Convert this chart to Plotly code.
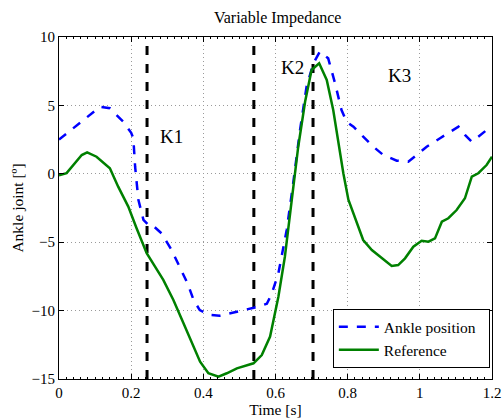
import plotly.graph_objects as go

# Reference trajectory (green)
ref_t = [0.000, 0.021, 0.063, 0.078, 0.104, 0.141, 0.164, 0.192, 0.215, 0.243, 0.289, 0.317,
         0.345, 0.372, 0.391, 0.414, 0.442, 0.465, 0.493, 0.539, 0.562, 0.585, 0.608, 0.626,
         0.645, 0.663, 0.682, 0.700, 0.721, 0.742, 0.760, 0.779, 0.788, 0.802, 0.825, 0.843,
         0.867, 0.894, 0.922, 0.940, 0.959, 0.982, 1.005, 1.024, 1.042, 1.061, 1.079, 1.102,
         1.125, 1.144, 1.162, 1.185, 1.200]
ref_y = [-0.1, 0.05, 1.37, 1.57, 1.25, 0.4, -0.94, -2.4, -3.98, -5.81, -7.76, -9.22,
         -10.93, -12.64, -13.73, -14.58, -14.83, -14.58, -14.22, -13.85, -13.25, -11.9, -8.98, -6.06,
         -1.9, 1.98, 5.27, 7.59, 8.08, 6.86, 4.66, 1.5, 0.04, -1.9, -3.62, -4.84,
         -5.57, -6.18, -6.74, -6.67, -6.18, -5.33, -4.89, -4.96, -4.72, -3.5, -3.25, -2.65,
         -1.79, -0.21, 0.04, 0.64, 1.25]

# Ankle position (blue dashed)
ank_t = [0.000, 0.057, 0.114, 0.141, 0.178, 0.200, 0.206, 0.211, 0.220, 0.234, 0.248, 0.257,
         0.284, 0.312, 0.356, 0.373, 0.390, 0.418, 0.445, 0.493, 0.540, 0.576, 0.590, 0.608,
         0.631, 0.649, 0.668, 0.686, 0.705, 0.723, 0.746, 0.765, 0.783, 0.797, 0.816, 0.843,
         0.871, 0.899, 0.936, 0.968, 0.991, 1.019, 1.056, 1.084, 1.107, 1.125, 1.144, 1.162,
         1.185, 1.200]
ank_y = [2.5, 3.7, 4.9, 4.79, 3.81, 3.0, 2.6, 0.5, -1.9, -3.37, -3.74, -3.7,
         -4.35, -5.57, -8.0, -9.22, -9.96, -10.32, -10.37, -10.08, -9.79, -9.5, -8.74, -7.27,
         -4.11, -0.69, 3.2, 6.37, 8.08, 8.93, 8.44, 6.62, 4.66, 3.81, 3.44, 2.71,
         1.98, 1.37, 0.96, 0.88, 1.37, 1.98, 2.6, 3.08, 3.44, 2.84, 2.35, 2.71,
         3.2, 3.44]

phase_bounds = [0.244, 0.540, 0.704]
phase_labels = ["K1", "K2", "K3"]
phase_label_t = [0.313, 0.646, 0.945]
phase_label_y = [2.7, 7.8, 7.2]

x_ticks = [0, 0.2, 0.4, 0.6, 0.8, 1, 1.2]
y_ticks = [-15, -10, -5, 0, 5, 10]
x_range = [0, 1.2]
y_range = [-15, 10]

FONT = "Liberation Serif"
PAD = "\u00a0\u00a0"

fig = go.Figure()

for b in phase_bounds:
    fig.add_trace(go.Scatter(x=[b, b], y=y_range, mode="lines",
                             line=dict(color="black", width=3, dash="dash"),
                             showlegend=False, hoverinfo="skip"))

fig.add_trace(go.Scatter(x=ank_t, y=ank_y, mode="lines", name="Ankle position" + PAD,
                         line=dict(color="#0000ff", width=2.5, dash="dash")))
fig.add_trace(go.Scatter(x=ref_t, y=ref_y, mode="lines", name="Reference" + PAD,
                         line=dict(color="#008000", width=2.5)))

for lab, tx, ty in zip(phase_labels, phase_label_t, phase_label_y):
    fig.add_annotation(x=tx, y=ty, text=lab, showarrow=False,
                       font=dict(family=FONT, size=19, color="black"))

axis_common = dict(
    showline=True, linecolor="black", linewidth=1, mirror="ticks",
    ticks="inside", ticklen=5, tickcolor="black",
    showgrid=True, gridcolor="#9a9a9a", griddash="1px,3px", gridwidth=1,
    zeroline=False, tickfont=dict(family=FONT, size=15, color="black"),
    automargin=False,
)

fig.update_xaxes(range=x_range, tickvals=x_ticks, ticktext=[str(v) for v in x_ticks],
                 title=dict(text="Time [s]", font=dict(family=FONT, size=15.5, color="black"), standoff=0),
                 minor=dict(dtick=0.02, ticks="inside", ticklen=2, tickcolor="black", showgrid=False),
                 **axis_common)
fig.update_yaxes(range=y_range, tickvals=y_ticks,
                 ticktext=[("\u2212" + str(abs(v))) if v < 0 else str(v) for v in y_ticks],
                 title=dict(text="Ankle joint [º]", font=dict(family=FONT, size=15.5, color="black"), standoff=4),
                 **axis_common)

fig.update_layout(
    width=504, height=419,
    margin=dict(l=59, r=12, t=37, b=40),
    paper_bgcolor="white", plot_bgcolor="white",
    title=dict(text="Variable Impedance", x=0.551, xanchor="center", y=0.972, yanchor="top",
               font=dict(family=FONT, size=16, color="black"), automargin=False),
    font=dict(family=FONT, color="black"),
    legend=dict(x=0.995, y=0.032, xanchor="right", yanchor="bottom",
                bgcolor="white", bordercolor="black", borderwidth=1,
                font=dict(family=FONT, size=15.5, color="black"),
                tracegroupgap=0, itemwidth=40),
    showlegend=True,
)

fig.write_html("out.html", config={"displayModeBar": False},
               post_script="document.body.style.margin='0';")
